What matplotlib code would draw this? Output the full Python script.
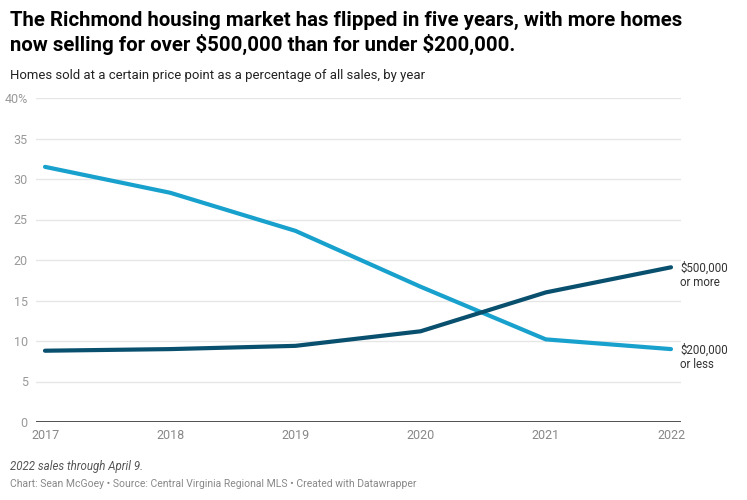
import numpy as np
import matplotlib.pyplot as plt

plt.rcParams['font.family'] = ['Roboto', 'DejaVu Sans']

# data
years = [2017, 2018, 2019, 2020, 2021, 2022]
over_500k = [8.8, 9.0, 9.4, 11.2, 16.0, 19.1]
under_200k = [31.5, 28.3, 23.6, 16.7, 10.2, 9.0]
yticks = [0, 5, 10, 15, 20, 25, 30, 35, 40]
ytick_labels = ['0', '5', '10', '15', '20', '25', '30', '35', '40%']

light = '#18a1cd'
dark = '#09506f'

fig = plt.figure(figsize=(7.47, 5.0), dpi=100)
ax = fig.add_axes([36/747, 78/500, 645/747, 324/500])

ax.plot(years, under_200k, color=light, lw=3, solid_capstyle='round', zorder=3)
ax.plot(years, over_500k, color=dark, lw=3, solid_capstyle='round', zorder=4)

ax.set_xlim(2017 - 9/125.2, 2022 + 10/125.2)
ax.set_ylim(0, 40)

# gridlines
for v in yticks[1:]:
    ax.axhline(v, color='#e6e6e6', lw=1, zorder=1)
ax.axhline(0, color='#333333', lw=1.2, zorder=5)

for s in ax.spines.values():
    s.set_visible(False)

ax.set_yticks(yticks)
ax.set_yticklabels(ytick_labels)
ax.set_xticks(years)
ax.set_xticklabels([str(y) for y in years])
ax.tick_params(axis='y', length=0, pad=6, labelsize=9, labelcolor='#999999')
ax.tick_params(axis='x', length=0, pad=5, labelsize=9, labelcolor='#888888')

# line labels at right end
ax.annotate('\\$500,000\nor more', xy=(years[-1], over_500k[-1]), xytext=(6.5, 4),
            textcoords='offset points', ha='left', va='top', fontsize=8.3,
            color='#333333', linespacing=1.15)
ax.annotate('\\$200,000\nor less', xy=(years[-1], under_200k[-1]), xytext=(6.5, 4),
            textcoords='offset points', ha='left', va='top', fontsize=8.3,
            color='#333333', linespacing=1.15)

fig.text(10/747, 1 - 11/500,
         'The Richmond housing market has flipped in five years, with more homes\n'
         'now selling for over \\$500,000 than for under \\$200,000.',
         ha='left', va='top', fontsize=14.7, fontweight='bold', color='#000000',
         linespacing=1.2)
fig.text(10/747, 1 - 69/500,
         'Homes sold at a certain price point as a percentage of all sales, by year',
         ha='left', va='top', fontsize=9.45, color='#222222')
fig.text(10/747, 1 - 460/500, '2022 sales through April 9.',
         ha='left', va='top', fontsize=8.3, style='italic', color='#555555')
fig.text(10/747, 1 - 479/500,
         'Chart: Sean McGoey \u2022 Source: Central Virginia Regional MLS \u2022 Created with Datawrapper',
         ha='left', va='top', fontsize=7.5, color='#888888')

fig.savefig('out.png', dpi=100)
